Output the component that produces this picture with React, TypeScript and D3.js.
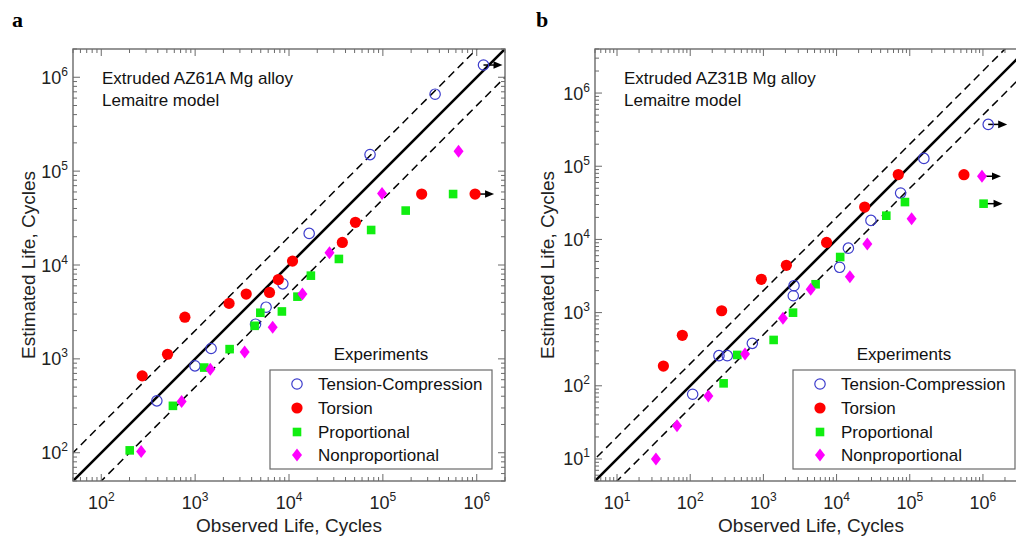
import React from 'react';
import * as d3 from 'd3';

// ---------- Data (Observed life, Estimated life) ----------
// Panel a: Extruded AZ61A
const aTension: [number, number][] = [
  [391, 357], [995, 843], [1480, 1290], [4400, 2340], [5700, 3550], [8600, 6300],
  [16400, 21700], [73000, 150000], [360000, 660000], [1180000, 1350000],
];
const aTensionRunout = [9];
const aTorsion: [number, number][] = [
  [273, 659], [508, 1120], [778, 2780], [2300, 3900], [3500, 4900], [6200, 5100],
  [7700, 7000], [10900, 11000], [37000, 17400], [51000, 28500], [259000, 57000], [960000, 57000],
];
const aTorsionRunout = [11];
const aProportional: [number, number][] = [
  [201, 106], [580, 316], [1250, 808], [2330, 1270], [4300, 2250], [4950, 3100],
  [8400, 3200], [12300, 4600], [17100, 7700], [34000, 11600], [75000, 23600],
  [175000, 38000], [560000, 57000],
];
const aProportionalRunout: number[] = [];
const aNonprop: [number, number][] = [
  [266, 103], [718, 351], [1450, 776], [3370, 1180], [6700, 2170], [13900, 4900],
  [27000, 13500], [98000, 57600], [640000, 163000],
];
const aNonpropRunout: number[] = [];

// Panel b: Extruded AZ31B
const bTension: [number, number][] = [
  [108, 76.6], [247, 258], [321, 258], [706, 380], [2560, 1700], [2620, 2330],
  [11000, 4160], [14500, 7600], [29500, 18200], [75000, 43000], [156000, 128000],
  [1180000, 373000],
];
const bTensionRunout = [11];
const bTorsion: [number, number][] = [
  [43, 186], [78, 490], [269, 1060], [936, 2850], [2060, 4430], [7300, 9100],
  [24200, 27700], [69700, 77000], [550000, 76600],
];
const bTorsionRunout: number[] = [];
const bProportional: [number, number][] = [
  [286, 108], [440, 264], [1380, 423], [2540, 998], [5170, 2440], [11200, 5750],
  [47800, 21100], [86000, 32400], [1020000, 30800],
];
const bProportionalRunout = [8];
const bNonprop: [number, number][] = [
  [34, 10], [66, 28.5], [177, 72.6], [561, 272], [1850, 836], [4430, 2080],
  [15200, 3090], [26300, 8650], [106000, 19200], [970000, 73000],
];
const bNonpropRunout = [9];

const legendLabels = ['Tension-Compression', 'Torsion', 'Proportional', 'Nonproportional'];
const kinds = ['tc', 'torsion', 'prop', 'nonprop'] as const;
const aDomain: [number, number] = [50, 2e6];
const bDomain: [number, number] = [5, 4e6];

const FONT = '"Liberation Sans", Arial, Helvetica, sans-serif';
const AXIS_COLOR = '#6a6a6a';
const COLORS: Record<string, string> = {
  tc: '#3c3ccc',
  torsion: '#ff0000',
  prop: '#11ee11',
  nonprop: '#ff00ff',
};

type Kind = typeof kinds[number];

function Marker({ kind, x, y }: { kind: Kind; x: number; y: number }) {
  if (kind === 'tc')
    return <circle cx={x} cy={y} r={5.2} fill="none" stroke={COLORS.tc} strokeWidth={1.2} />;
  if (kind === 'torsion') return <circle cx={x} cy={y} r={5.6} fill={COLORS.torsion} />;
  if (kind === 'prop')
    return <rect x={x - 4.3} y={y - 4.3} width={8.6} height={8.6} fill={COLORS.prop} />;
  return (
    <path
      d={`M${x},${y - 6.5}L${x + 5},${y}L${x},${y + 6.5}L${x - 5},${y}Z`}
      fill={COLORS.nonprop}
    />
  );
}

function Arrow({ x, y }: { x: number; y: number }) {
  const len = 19;
  return (
    <g>
      <line x1={x} y1={y} x2={x + len - 7} y2={y} stroke="#000" strokeWidth={1.5} />
      <path d={`M${x + len},${y}L${x + len - 9},${y - 3.8}L${x + len - 9},${y + 3.8}Z`} fill="#000" />
    </g>
  );
}

interface PanelProps {
  id: string;
  left: number;
  top: number;
  size: number;
  domain: [number, number];
  series: { kind: Kind; pts: [number, number][]; runout: number[] }[];
  title: string;
  letter: string;
  letterX: number;
  yTitleX: number;
  legendX: number;
  legendY: number;
}

function Panel(p: PanelProps) {
  const { left, top, size, domain } = p;
  const x = d3.scaleLog().domain(domain).range([left, left + size]);
  const y = d3.scaleLog().domain(domain).range([top + size, top]);
  const right = left + size;
  const bottom = top + size;

  const ticks: { v: number; major: boolean }[] = [];
  const e0 = Math.floor(Math.log10(domain[0]));
  const e1 = Math.ceil(Math.log10(domain[1]));
  for (let e = e0; e <= e1; e++) {
    for (let k = 1; k <= 9; k++) {
      const v = k * Math.pow(10, e);
      if (v >= domain[0] * 0.9999 && v <= domain[1] * 1.0001) ticks.push({ v, major: k === 1 });
    }
  }
  const majL = 7;
  const minL = 4;

  const lineD = (f: number) => {
    const gen = d3
      .line<number>()
      .x((v) => x(v))
      .y((v) => y(v * f));
    return gen([domain[0] / 4, domain[1] * 4]) || '';
  };

  const clipId = `clip-${p.id}`;
  const legW = 222;
  const legH = 99;
  const rowOff = [14, 38, 62, 85];

  return (
    <g>
      <defs>
        <clipPath id={clipId}>
          <rect x={left} y={top} width={size} height={size} />
        </clipPath>
      </defs>
      <text x={p.letterX} y={27} fontFamily='"Liberation Serif", "Times New Roman", serif' fontWeight="bold" fontSize={22}>
        {p.letter}
      </text>
      <g clipPath={`url(#${clipId})`}>
        <path d={lineD(2)} stroke="#000" strokeWidth={1.5} strokeDasharray="8,5" fill="none" />
        <path d={lineD(0.5)} stroke="#000" strokeWidth={1.5} strokeDasharray="8,5" fill="none" />
        <path d={lineD(1)} stroke="#000" strokeWidth={2.6} fill="none" />
      </g>
      {/* frame */}
      <rect x={left} y={top} width={size} height={size} fill="none" stroke={AXIS_COLOR} strokeWidth={1.4} />
      {/* ticks */}
      {ticks.map((t, i) => {
        const L = t.major ? majL : minL;
        const tx = x(t.v);
        const ty = y(t.v);
        return (
          <g key={i} stroke={AXIS_COLOR} strokeWidth={1}>
            <line x1={tx} y1={bottom} x2={tx} y2={bottom - L} />
            <line x1={tx} y1={top} x2={tx} y2={top + L} />
            <line x1={left} y1={ty} x2={left + L} y2={ty} />
            <line x1={right} y1={ty} x2={right - L} y2={ty} />
          </g>
        );
      })}
      {/* tick labels */}
      {ticks
        .filter((t) => t.major)
        .map((t, i) => {
          const ex = Math.round(Math.log10(t.v));
          return (
            <g key={`l${i}`} fontFamily={FONT} fill="#222">
              <text x={x(t.v)} y={509} textAnchor="middle" fontSize={18}>
                10
                <tspan fontSize={12} dy={-8}>
                  {ex}
                </tspan>
              </text>
              <text x={left - 5} y={y(t.v) + 6.5} textAnchor="end" fontSize={18}>
                10
                <tspan fontSize={12} dy={-8}>
                  {ex}
                </tspan>
              </text>
            </g>
          );
        })}
      {/* axis titles */}
      <text x={left + size / 2} y={532} textAnchor="middle" fontFamily={FONT} fontSize={19} fill="#222">
        Observed Life, Cycles
      </text>
      <text
        transform={`translate(${p.yTitleX},${top + size / 2}) rotate(-90)`}
        textAnchor="middle"
        dominantBaseline="central"
        fontFamily={FONT}
        fontSize={19}
        fill="#222"
      >
        Estimated Life, Cycles
      </text>
      {/* annotation */}
      <text x={left + 29} y={84} fontFamily={FONT} fontSize={17} fill="#111">
        {p.title}
      </text>
      <text x={left + 29} y={106} fontFamily={FONT} fontSize={17} fill="#111">
        Lemaitre model
      </text>
      {/* data */}
      <g clipPath={`url(#${clipId})`}>
        {p.series.map((s) =>
          s.runout.map((idx) => (
            <Arrow key={`${s.kind}-a${idx}`} x={x(s.pts[idx][0])} y={y(s.pts[idx][1])} />
          ))
        )}
        {p.series.map((s) =>
          s.pts.map((pt, i) => <Marker key={`${s.kind}-${i}`} kind={s.kind} x={x(pt[0])} y={y(pt[1])} />)
        )}
      </g>
      {/* legend */}
      <text x={p.legendX + legW / 2} y={p.legendY - 10} textAnchor="middle" fontFamily={FONT} fontSize={17} fill="#111">
        Experiments
      </text>
      <rect x={p.legendX} y={p.legendY} width={legW} height={legH} fill="#fff" stroke={AXIS_COLOR} strokeWidth={1.2} />
      {kinds.map((k, i) => (
        <g key={`leg${k}`}>
          <Marker kind={k} x={p.legendX + 27} y={p.legendY + rowOff[i]} />
          <text x={p.legendX + 48} y={p.legendY + rowOff[i] + 6} fontFamily={FONT} fontSize={17} fill="#111">
            {legendLabels[i]}
          </text>
        </g>
      ))}
    </g>
  );
}

export default function App() {
  const aSeries = [
    { kind: 'tc' as Kind, pts: aTension, runout: aTensionRunout },
    { kind: 'torsion' as Kind, pts: aTorsion, runout: aTorsionRunout },
    { kind: 'prop' as Kind, pts: aProportional, runout: aProportionalRunout },
    { kind: 'nonprop' as Kind, pts: aNonprop, runout: aNonpropRunout },
  ];
  const bSeries = [
    { kind: 'tc' as Kind, pts: bTension, runout: bTensionRunout },
    { kind: 'torsion' as Kind, pts: bTorsion, runout: bTorsionRunout },
    { kind: 'prop' as Kind, pts: bProportional, runout: bProportionalRunout },
    { kind: 'nonprop' as Kind, pts: bNonprop, runout: bNonpropRunout },
  ];
  return (
    <div style={{ position: 'absolute', left: 0, top: 0, width: 1016, height: 541, overflow: 'hidden', background: '#fff' }}>
      <svg width={1016} height={541} style={{ display: 'block' }}>
        <rect width={1016} height={541} fill="#fff" />
        <Panel
          id="a"
          left={73}
          top={49}
          size={432}
          domain={aDomain}
          series={aSeries}
          title="Extruded AZ61A Mg alloy"
          letter="a"
          letterX={12}
          yTitleX={28}
          legendX={270}
          legendY={370}
        />
        <Panel
          id="b"
          left={595}
          top={49}
          size={432}
          domain={bDomain}
          series={bSeries}
          title="Extruded AZ31B Mg alloy"
          letter="b"
          letterX={536}
          yTitleX={547}
          legendX={793}
          legendY={370}
        />
      </svg>
    </div>
  );
}
